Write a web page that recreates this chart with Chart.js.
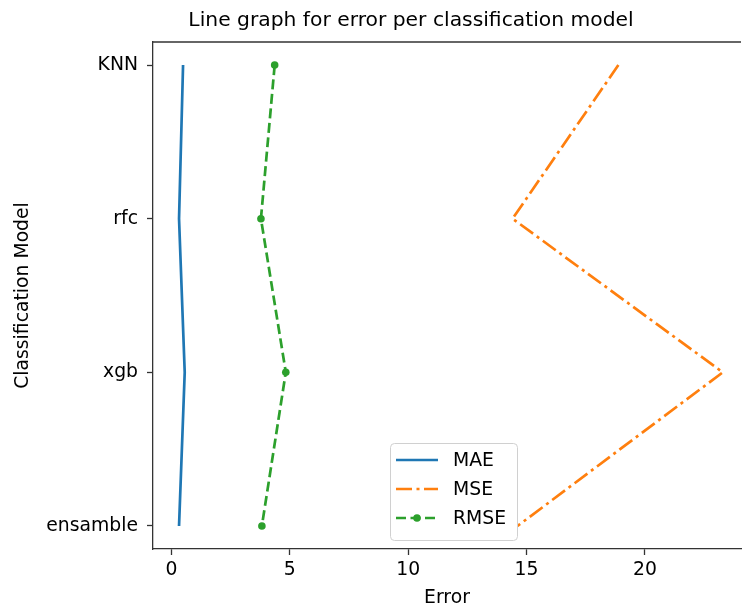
<!DOCTYPE html>
<html>
<head>
<meta charset="utf-8">
<script src="https://cdn.jsdelivr.net/npm/chart.js@4.4.1/dist/chart.umd.min.js"></script>
<style>
    html, body { margin: 0; padding: 0; background: #ffffff; overflow: hidden; }
    #chartWrap { width: 745px; height: 609px; }
</style>
</head>
<body>
<div id="chartWrap"><canvas id="errorChart" width="745" height="609"></canvas></div>
<script>
// --- data ---
const models = ['KNN', 'rfc', 'xgb', 'ensamble'];
const maeValues = [0.49, 0.32, 0.56, 0.32];
const mseValues = [18.88, 14.41, 23.29, 14.62];
const rmseValues = [4.36, 3.78, 4.83, 3.82];
const xTickValues = [0, 5, 10, 15, 20];

const FONT = 'DejaVu Sans';
const FONT_SIZE = 18.8;
const SPINE = '#333333';

// turn a value list into {x, y} points, y = index of the model
function toPoints(values) {
    return values.map((v, i) => ({ x: v, y: i }));
}

// Title drawn by hand so it can sit where matplotlib put it
const titlePlugin = {
    id: 'mplTitle',
    afterDraw(chart) {
        const ctx = chart.ctx;
        ctx.save();
        ctx.font = `20.3px "${FONT}"`;
        ctx.fillStyle = '#000';
        ctx.textAlign = 'center';
        ctx.textBaseline = 'middle';
        ctx.fillText('Line graph for error per classification model', 411, 21);
        ctx.restore();
    }
};

// Top spine (the right one falls outside the picture)
const framePlugin = {
    id: 'frame',
    afterDraw(chart) {
        const { ctx, chartArea } = chart;
        ctx.save();
        ctx.strokeStyle = SPINE;
        ctx.lineWidth = 1.3;
        ctx.beginPath();
        ctx.moveTo(chartArea.left, chartArea.top);
        ctx.lineTo(chartArea.right, chartArea.top);
        ctx.stroke();
        ctx.restore();
    }
};

// matplotlib style legend box in the lower middle
const legendPlugin = {
    id: 'mplLegend',
    afterDraw(chart) {
        const ctx = chart.ctx;
        const box = { x: 390, y: 443, w: 127, h: 97 };
        ctx.save();
        ctx.fillStyle = 'rgba(255,255,255,0.85)';
        ctx.strokeStyle = '#d0d0d0';
        ctx.lineWidth = 1;
        ctx.beginPath();
        ctx.roundRect(box.x + 0.5, box.y + 0.5, box.w, box.h, 4);
        ctx.fill();
        ctx.stroke();

        ctx.font = `${FONT_SIZE}px "${FONT}"`;
        ctx.textBaseline = 'middle';
        ctx.textAlign = 'left';
        chart.data.datasets.forEach((ds, i) => {
            const y = box.y + 17 + i * 29;
            ctx.strokeStyle = ds.borderColor;
            ctx.lineWidth = ds.borderWidth;
            ctx.setLineDash(ds.borderDash || []);
            ctx.beginPath();
            ctx.moveTo(396, y);
            ctx.lineTo(438, y);
            ctx.stroke();
            ctx.setLineDash([]);
            if (ds.pointRadius > 0) {
                ctx.fillStyle = ds.borderColor;
                ctx.beginPath();
                ctx.arc(417, y, ds.pointRadius, 0, Math.PI * 2);
                ctx.fill();
            }
            ctx.fillStyle = '#000';
            ctx.fillText(ds.label, 453, y + 1);
        });
        ctx.restore();
    }
};

const ctx = document.getElementById('errorChart').getContext('2d');
new Chart(ctx, {
    type: 'line',
    data: {
        datasets: [
            {
                label: 'MAE',
                data: toPoints(maeValues),
                borderColor: '#1f77b4',
                backgroundColor: '#1f77b4',
                borderWidth: 2.7,
                pointRadius: 0
            },
            {
                label: 'MSE',
                data: toPoints(mseValues),
                borderColor: '#ff7f0e',
                backgroundColor: '#ff7f0e',
                borderWidth: 2.7,
                borderDash: [16, 4.5, 3, 4.5],
                pointRadius: 0
            },
            {
                label: 'RMSE',
                data: toPoints(rmseValues),
                borderColor: '#2ca02c',
                backgroundColor: '#2ca02c',
                borderWidth: 2.7,
                borderDash: [10, 4.5],
                pointRadius: 3.8,
                pointBorderWidth: 0
            }
        ]
    },
    options: {
        responsive: false,
        animation: false,
        events: [],
        layout: { padding: { top: 42, left: 0, right: 0, bottom: 0 } },
        elements: { line: { tension: 0, borderCapStyle: 'butt', fill: false } },
        scales: {
            x: {
                type: 'linear',
                min: -0.78,
                max: 24.06,
                afterBuildTicks: scale => { scale.ticks = xTickValues.map(v => ({ value: v })); },
                afterFit: scale => { scale.height = 60; },
                grid: { drawOnChartArea: false, drawTicks: true, tickLength: 6, tickColor: SPINE, tickWidth: 1.3 },
                border: { display: true, color: SPINE, width: 1.3 },
                ticks: { color: '#000', font: { family: FONT, size: FONT_SIZE }, padding: 4, maxRotation: 0 },
                title: { display: true, text: 'Error', color: '#000', font: { family: FONT, size: FONT_SIZE }, padding: { top: 0, bottom: 0 } }
            },
            y: {
                type: 'linear',
                reverse: true,
                min: -0.15,
                max: 3.15,
                afterBuildTicks: scale => { scale.ticks = models.map((_, i) => ({ value: i })); },
                afterFit: scale => { scale.width = 153; },
                grid: { drawOnChartArea: false, drawTicks: true, tickLength: 6, tickColor: SPINE, tickWidth: 1.3 },
                border: { display: true, color: SPINE, width: 1.3 },
                ticks: {
                    color: '#000',
                    font: { family: FONT, size: FONT_SIZE },
                    padding: 9,
                    callback: value => models[value]
                },
                title: { display: true, text: 'Classification Model', color: '#000', font: { family: FONT, size: FONT_SIZE }, padding: { top: 12, bottom: 0 } }
            }
        },
        plugins: {
            legend: { display: false },
            title: { display: false },
            tooltip: { enabled: false }
        }
    },
    plugins: [titlePlugin, framePlugin, legendPlugin]
});
</script>
</body>
</html>
